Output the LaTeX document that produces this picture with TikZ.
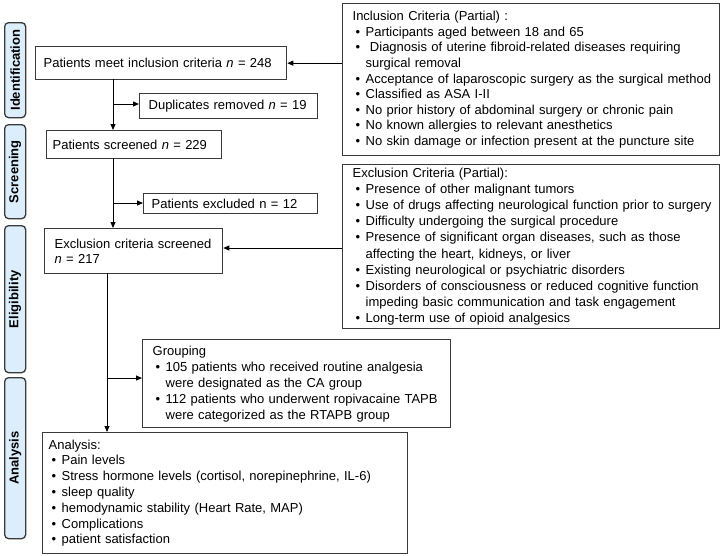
\documentclass[tikz,border=0pt]{standalone}
\usepackage{fontspec}
\setmainfont{Liberation Sans}
\usetikzlibrary{arrows.meta,calc}
\definecolor{boxc}{HTML}{3A3A3A}
\definecolor{sidefill}{HTML}{DCEEFB}
\newcommand\bi[1]{\mbox{\makebox[13pt][l]{\hspace{3pt}\textbullet}#1}}
\newcommand\ct[1]{\mbox{\hspace*{13pt}#1}}
\begin{document}
\begin{tikzpicture}[x=1pt,y=-1pt,
  every node/.style={font=\fontsize{13}{15.6}\selectfont},
  box/.style={draw=boxc, line width=1.3pt, fill=white, anchor=north west, align=left, inner ysep=0pt},
  side/.style={draw=boxc, line width=1.3pt, fill=sidefill, rounded corners=4pt, anchor=north west,
    minimum width=21pt, inner sep=0pt},
  sidetext/.style={rotate=90, font=\fontsize{13}{15.6}\selectfont\bfseries},
  arr/.style={draw=black, line width=0.9pt, -{Triangle[length=6pt,width=5pt]}}]
\useasboundingbox (0,0) rectangle (720,555);
% side labels
\node[side, minimum height=95pt] (s1) at (4,22) {};
\node[sidetext] (t1) at (s1.center) {Identification};
\node[side, minimum height=94pt] (s2) at (4,124) {};
\node[sidetext] (t2) at (s2.center) {Screening};
\node[side, minimum height=147pt] (s3) at (4,225) {};
\node[sidetext] (t3) at (s3.center) {Eligibility};
\node[side, minimum height=161pt] (s4) at (4,377) {};
\node[sidetext] (t4) at (s4.center) {Analysis};
% main boxes
\node[box, inner xsep=8pt, text width=235pt, minimum height=33pt] (pmi) at (35,46) {Patients meet inclusion criteria \textit{n} = 248};
\node[box, inner xsep=9pt, text width=160pt, minimum height=25pt] (dup) at (139,93) {Duplicates removed \textit{n} = 19};
\node[box, inner xsep=6pt, text width=163pt, minimum height=28pt] (scr) at (46,130) {Patients screened \textit{n} = 229};
\node[box, inner xsep=8pt, text width=158pt, minimum height=20pt] (exc) at (143,193) {Patients excluded n = 12};
\node[box, inner xsep=10pt, text width=158pt, minimum height=45pt] (exs) at (44,228) {Exclusion criteria screened\\\textit{n} = 217};
\node[box, inner xsep=10pt, text width=357pt, minimum height=152pt] (inc) at (342,3) {Inclusion Criteria (Partial) :\\
\bi{Participants aged between 18 and 65}\\
\bi{\ Diagnosis of uterine fibroid-related diseases requiring}\\
\ct{surgical removal}\\
\bi{Acceptance of laparoscopic surgery as the surgical method}\\
\bi{Classified as ASA I-II}\\
\bi{No prior history of abdominal surgery or chronic pain}\\
\bi{No known allergies to relevant anesthetics}\\
\bi{No skin damage or infection present at the puncture site}};
\node[box, inner xsep=10pt, text width=357pt, minimum height=164pt,
  font=\fontsize{13}{16.2}\selectfont] (exl) at (342,164) {Exclusion Criteria (Partial):\\
\bi{Presence of other malignant tumors}\\
\bi{Use of drugs affecting neurological function prior to surgery}\\
\bi{Difficulty undergoing the surgical procedure}\\
\bi{Presence of significant organ diseases, such as those}\\
\ct{affecting the heart, kidneys, or liver}\\
\bi{Existing neurological or psychiatric disorders}\\
\bi{Disorders of consciousness or reduced cognitive function}\\
\ct{impeding basic communication and task engagement}\\
\bi{Long-term use of opioid analgesics}};
\node[box, inner xsep=10pt, text width=288pt, minimum height=88pt,
  font=\fontsize{13}{16}\selectfont] (grp) at (142,339) {Grouping\\
\bi{105 patients who received routine analgesia}\\
\ct{were designated as the CA group}\\
\bi{112 patients who underwent ropivacaine TAPB}\\
\ct{were categorized as the RTAPB group}};
\node[box, inner xsep=6pt, text width=353pt, minimum height=121pt,
  font=\fontsize{13}{15.8}\selectfont] (ana) at (42,432) {Analysis:\\
\bi{Pain levels}\\
\bi{Stress hormone levels (cortisol, norepinephrine, IL-6)}\\
\bi{sleep quality}\\
\bi{hemodynamic stability (Heart Rate, MAP)}\\
\bi{Complications}\\
\bi{patient satisfaction}};
% connectors
\coordinate (v1) at (113,79);
\coordinate (b1) at (113,104);
\coordinate (v2) at (113,158);
\coordinate (b2) at (113,203);
\coordinate (v3) at (107,273);
\coordinate (b3) at (107,378);
\coordinate (ey) at (0,248);
\draw[arr] (v1) -- (v1 |- scr.north);
\draw[arr] (b1) -- (b1 -| dup.west);
\draw[arr] (v2) -- (v2 |- exs.north);
\draw[arr] (b2) -- (b2 -| exc.west);
\draw[arr] (v3) -- (v3 |- ana.north);
\draw[arr] (b3) -- (b3 -| grp.west);
\draw[arr] (inc.west |- pmi.east) -- (pmi.east);
\draw[arr] (exl.west |- ey) -- (exs.east |- ey);
\end{tikzpicture}
\end{document}
